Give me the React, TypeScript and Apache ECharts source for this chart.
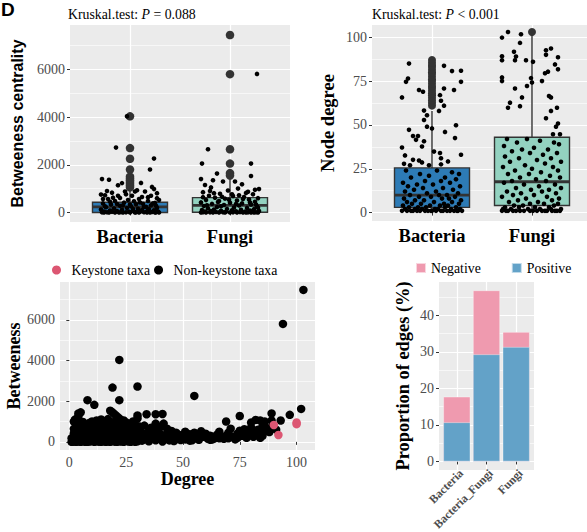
import React, { useEffect, useRef } from "react";
import * as echarts from "echarts";

const SERIF = "Liberation Serif";
const SANS = "Liberation Sans";

// ---------- Panel A / B categories ----------
const boxCategories = ["Bacteria", "Fungi"];
const boxFills = ["#2D7BB6", "#93D2C0"];

// [min, Q1, median, Q3, max]
const betweenBoxStats = [
  [0, 0, 230, 430, 1000],
  [0, 10, 295, 620, 1480],
];
const betweenOutliersBacteria = [4030, 2700, 2250, 1800, 1500, 1420, 1350, 1280, 1200, 1120, 1050];
const betweenOutliersFungi = [7440, 5800, 2650, 2050, 1650, 1550];

const betweenJitterBacteria: [number, number][] = [
  [-0.03, 4030], [-0.14, 2720], [0.24, 2260], [0.2, 1800], [-0.28, 1400], [-0.21, 1370], [-0.12, 1140], [-0.08, 1230],
  [0.11, 1240], [0.22, 1070], [0.24, 980], [-0.29, 750], [-0.25, 720], [-0.18, 830], [-0.1, 610], [0.07, 930],
  [0.27, 810], [0.15, 880], [0.02, 700], [-0.05, 880], [0.18, 640], [-0.22, 560], [0.29, 520], [0.09, 560],
  [-0.15, 480], [0.04, 470], [0.25, 400], [-0.27, 380], [-0.06, 410], [0.13, 360], [-0.19, 330], [0.21, 300],
  [-0.1, 280], [0.01, 260], [0.16, 240], [-0.24, 220], [0.27, 200], [-0.03, 190], [-0.16, 170], [0.08, 160],
  [0.19, 140], [-0.29, 120], [-0.08, 110], [0.12, 100], [0.24, 90], [-0.2, 80], [0.03, 70], [-0.13, 60],
  [0.17, 55], [0.28, 45], [-0.26, 40], [-0.01, 35], [0.1, 30], [-0.18, 25], [0.22, 20], [-0.09, 15],
  [0.06, 12], [-0.23, 10], [0.14, 8], [0.26, 6], [-0.04, 5], [-0.28, 4], [0.2, 3], [-0.15, 2],
  [0.09, 2], [-0.07, 1], [0.29, 1], [0.0, 0], [-0.21, 0], [0.17, 0], [-0.11, 0], [0.25, 0],
  [0.05, 0], [-0.26, 0], [-0.02, 520], [0.12, 650], [-0.12, 700], [0.06, 340], [-0.2, 450], [0.23, 380],
  [-0.07, 300], [0.18, 480], [-0.25, 260], [0.03, 150], [0.27, 600], [-0.17, 620], [0.1, 420], [-0.04, 760],
  [0.21, 700], [-0.27, 560], [0.14, 230], [-0.13, 350], [0.05, 880], [0.26, 280], [-0.23, 900], [0.0, 330],
];
const betweenJitterFungi: [number, number][] = [
  [0.27, 5810], [-0.22, 2650], [-0.28, 2050], [0.21, 2050], [0.21, 1530], [-0.29, 1400], [-0.13, 1630], [-0.17, 1350],
  [-0.07, 1300], [0.05, 1300], [-0.25, 1150], [0.12, 1180], [0.29, 980], [0.25, 950], [-0.19, 1050], [0.08, 1000],
  [-0.02, 920], [-0.27, 850], [0.16, 820], [-0.1, 780], [0.23, 760], [-0.21, 700], [0.03, 690], [0.14, 650],
  [-0.15, 620], [0.28, 600], [-0.05, 580], [0.19, 540], [-0.24, 520], [0.07, 500], [-0.11, 480], [0.25, 450],
  [-0.29, 420], [0.0, 410], [0.12, 380], [-0.18, 360], [0.21, 330], [-0.06, 310], [0.09, 290], [-0.26, 270],
  [0.27, 250], [-0.13, 230], [0.04, 210], [0.17, 190], [-0.22, 170], [-0.03, 150], [0.24, 140], [-0.16, 120],
  [0.11, 110], [-0.28, 100], [0.02, 90], [0.2, 80], [-0.09, 70], [0.29, 60], [-0.19, 55], [0.06, 50],
  [-0.25, 40], [0.15, 35], [-0.04, 30], [0.22, 25], [-0.14, 20], [0.1, 15], [-0.27, 12], [0.26, 10],
  [-0.07, 8], [0.03, 6], [0.18, 5], [-0.2, 4], [-0.11, 3], [0.13, 2], [0.28, 1], [-0.24, 1],
  [0.0, 0], [-0.17, 0], [0.21, 0], [0.07, 0], [-0.29, 0], [0.16, 0], [-0.05, 0], [0.24, 0],
  [-0.12, 440], [0.13, 560], [-0.23, 300], [0.02, 760], [0.18, 870], [-0.08, 660], [0.26, 330], [-0.2, 900],
  [0.09, 720], [-0.16, 810], [0.2, 420], [-0.01, 530], [0.28, 200], [-0.27, 640], [0.06, 350], [-0.09, 260],
];

// ---------- Panel B ----------
const degreeBoxStats = [
  [1, 3, 10, 25.5, 58],
  [1, 4, 17.6, 43, 101],
];
const degreeOutliersBacteria = [61, 62.5, 64, 65.5, 67, 68, 69.5, 71, 72, 73.5, 75, 76, 77.5, 79, 80, 81.5, 83, 84, 85.5, 87];
const degreeOutliersFungi = [103];

const degreeJitterBacteria: [number, number][] = [
  [-0.23, 85], [0.12, 83.7], [0.2, 80.7], [0.29, 80.9], [0.29, 74.6], [-0.24, 76.5], [-0.26, 74.6], [-0.13, 69.9],
  [-0.09, 68.9], [0.12, 70.8], [0.22, 69.9], [-0.3, 65.7], [0.08, 67], [0.09, 63.8], [0.12, 61], [-0.08, 58.2],
  [0.07, 58], [-0.05, 55.5], [-0.08, 52.8], [0.24, 49.8], [-0.05, 49], [0, 48], [-0.23, 47.2], [0.13, 46],
  [-0.19, 43.7], [-0.14, 43.7], [-0.16, 41.5], [0.23, 42.5], [-0.08, 40.7], [-0.1, 37.7], [-0.3, 37.1], [0.02, 34.8],
  [0.08, 34], [-0.27, 32.6], [0.29, 33], [-0.19, 30.1], [0.09, 31], [0.16, 29.2], [-0.28, 27.8], [-0.22, 27],
  [-0.13, 29.7], [-0.1, 28.6], [-0.03, 27], [0.09, 27.5],
  [-0.26, 24], [0.05, 24], [0.2, 23], [-0.12, 22], [0.27, 22], [-0.03, 21], [0.13, 20], [-0.21, 20],
  [0.24, 19], [-0.07, 18], [0.09, 18], [-0.29, 17], [0.18, 17], [-0.15, 16], [0.01, 16], [0.28, 15],
  [-0.24, 15], [0.11, 14], [-0.09, 14], [0.21, 13], [-0.18, 13], [0.04, 12], [-0.27, 12], [0.26, 11],
  [-0.05, 11], [0.15, 10], [-0.22, 10], [0.07, 10], [-0.13, 9], [0.23, 9], [-0.01, 9], [-0.28, 8],
  [0.17, 8], [0.1, 8], [-0.17, 7], [0.29, 7], [-0.08, 7], [0.02, 6], [-0.25, 6], [0.2, 6],
  [-0.11, 5], [0.12, 5], [0.27, 5], [-0.2, 5], [-0.02, 4], [0.16, 4], [-0.29, 4], [0.08, 4],
  [-0.14, 3], [0.24, 3], [-0.06, 3], [0.13, 3], [-0.23, 3], [0.03, 2], [0.19, 2], [-0.17, 2],
  [0.28, 2], [-0.1, 2], [0.06, 2], [-0.27, 2], [0.22, 1], [-0.04, 1], [0.11, 1], [-0.19, 1],
  [0.26, 1], [-0.12, 1], [0.0, 1], [0.15, 1], [-0.3, 1], [0.09, 1], [-0.07, 1], [0.3, 1],
  [-0.21, 1], [0.18, 1], [-0.15, 1], [0.04, 1], [-0.25, 1], [0.25, 1], [-0.01, 1],
];
const degreeJitterFungi: [number, number][] = [
  [-0.3, 99.8], [-0.24, 103], [-0.11, 101.7], [-0.12, 96.8], [-0.18, 91.7], [-0.16, 89], [-0.3, 89.2], [-0.3, 86.9],
  [-0.17, 86.9], [-0.06, 86.9], [0.01, 86], [0.14, 92.6], [0.19, 93.6], [0.14, 90], [0.26, 88.6], [0.23, 84.5],
  [0.26, 81.7], [0.16, 80.4], [0.13, 79.5], [0.1, 75], [-0.3, 77.1], [-0.3, 75], [-0.01, 76.7], [0.0, 74.2],
  [-0.05, 72.2], [-0.17, 70.8], [-0.1, 65.7], [-0.22, 62.7], [-0.24, 59.8], [-0.12, 60.7], [0.17, 66.5], [0.19, 65.7],
  [0.25, 59.8], [0.19, 58], [0.14, 53.8], [0.26, 50.8], [0.24, 49], [0.28, 44.7], [0.21, 44.7],
  [-0.25, 42], [-0.05, 42], [0.08, 41], [0.22, 40], [-0.15, 40], [0.27, 39], [-0.28, 38], [0.02, 37],
  [-0.1, 36], [0.16, 36], [-0.2, 35], [0.25, 34], [-0.02, 34], [0.11, 33], [-0.27, 32], [0.19, 31],
  [-0.13, 31], [0.05, 30], [-0.22, 29], [0.29, 29], [0.13, 28], [-0.07, 27], [-0.29, 26], [0.21, 26],
  [0.0, 25], [-0.17, 24], [0.26, 24], [0.09, 23], [-0.24, 22], [-0.03, 22], [0.18, 21], [-0.12, 20],
  [0.28, 20], [0.04, 19], [-0.2, 18], [0.14, 18], [-0.28, 17], [0.23, 16], [-0.08, 16], [0.07, 15],
  [-0.16, 14], [0.29, 14], [-0.01, 13], [0.17, 13], [-0.25, 12], [0.1, 12], [-0.11, 11], [0.24, 11],
  [0.02, 10], [-0.19, 10], [0.15, 9], [-0.3, 9], [0.27, 8], [-0.06, 8], [0.2, 7], [-0.14, 7],
  [0.06, 6], [-0.23, 6], [0.26, 5], [-0.02, 5], [0.12, 5], [-0.18, 4], [0.22, 4], [-0.09, 4],
  [0.03, 3], [-0.27, 3], [0.17, 3], [-0.13, 3], [0.29, 2], [0.08, 2], [-0.21, 2], [-0.04, 2],
  [0.19, 2], [-0.29, 2], [0.13, 1], [-0.16, 1], [0.25, 1], [0.01, 1], [-0.24, 1], [0.1, 1],
  [-0.08, 1], [0.2, 1], [-0.3, 1], [0.05, 1], [-0.12, 1], [0.28, 1], [-0.19, 1], [0.15, 1],
  [-0.02, 1], [0.23, 1], [-0.26, 1],
];

// ---------- Panel C: [degree, betweenness] ----------
const keystoneTaxa: [number, number][] = [[90, 830], [92, 340], [100, 950], [100, 870]];
const nonKeystoneTaxa: [number, number][] = [
  [103, 7470], [94, 5800], [22, 4030], [30, 2720], [19, 2670], [55, 2260], [8, 2050], [22, 2050],
  [11, 1820], [102, 1620], [97, 1330], [89, 1400], [75, 1270], [34, 1360], [38, 1360], [41, 1370],
  [5, 1450], [4, 1400], [18, 1530], [19, 1450], [20, 1350], [21, 1250], [22, 1150], [23, 1050],
  [30, 1300], [30, 1150], [93, 1050], [89, 1050], [86, 1000], [84, 1050], [80, 950], [69, 1000],
  [2.6, 1100], [12, 1050], [13.5, 1000], [38, 900], [41.5, 900], [10, 1000], [15, 950], [25, 950],
  [27, 900], [29, 850], [85, 750], [82, 1080],
  [1, 0], [2, 10], [3, 0], [4, 20], [5, 0], [6, 30], [7, 5], [8, 0], [9, 15], [10, 40], [11, 0], [12, 25],
  [13, 10], [14, 0], [15, 35], [16, 5], [17, 20], [18, 0], [19, 45], [20, 10], [21, 0], [22, 30], [23, 15],
  [24, 0], [25, 50], [26, 20], [27, 5], [28, 40], [29, 0], [30, 25], [32, 60], [35, 30], [38, 80], [41, 20],
  [44, 70], [46, 40], [49, 90],
  [1, 180], [3, 230], [5, 160], [6, 250], [8, 200], [10, 170], [11, 260], [13, 210], [15, 190], [16, 270],
  [18, 220], [20, 180], [22, 240], [24, 200], [26, 260], [27, 170], [29, 230], [31, 190], [33, 250], [36, 210],
  [39, 170], [42, 240], [45, 200], [47, 150], [50, 230],
  [2, 420], [3, 380], [5, 450], [7, 400], [9, 370], [10, 460], [12, 410], [14, 380], [15, 470], [17, 430],
  [19, 390], [21, 450], [23, 400], [25, 370], [26, 480], [28, 420], [30, 390], [32, 440], [34, 400], [37, 460],
  [40, 380], [43, 420], [48, 350],
  [2, 640], [4, 580], [6, 620], [8, 560], [9, 680], [11, 600], [13, 650], [16, 590], [18, 700], [20, 620],
  [22, 560], [24, 680], [27, 610], [29, 660], [31, 580], [35, 520], [38, 620], [45, 540],
  [3, 780], [5, 850], [7, 760], [10, 820], [12, 870], [14, 760], [17, 830], [19, 780], [21, 900], [23, 820],
  [26, 770], [28, 860], [31, 750], [36, 700],
  [2, 1000], [3, 1100], [4, 1250], [6, 980], [9, 940], [14, 1100], [16, 1000], [24, 1050], [28, 1000],
  [17, 1120], [20, 1000], [33, 800], [40, 720], [43, 650],
  [51, 120], [52, 300], [53, 60], [54, 80], [55, 450], [56, 180], [57, 350], [58, 520], [59, 250], [60, 400],
  [61, 150], [62, 300], [63, 120], [64, 180], [65, 350], [66, 500], [67, 200], [68, 150], [69, 300], [70, 450],
  [71, 650], [72, 250], [73, 120], [74, 400], [75, 550], [76, 300], [77, 620], [78, 200], [79, 450], [80, 700],
  [81, 500], [82, 350], [83, 600], [84, 200], [85, 450], [86, 750], [87, 550], [88, 650], [89, 720], [91, 600],
  [57, 100], [62, 100], [66, 180], [70, 180], [74, 200], [76, 450], [81, 250], [85, 300], [88, 480], [47, 450],
  [49, 300], [51, 500], [53, 380],
];

// ---------- Panel D ----------
const edgeCategories = ["Bacteria", "Bacteria_Fungi", "Fungi"];
const positiveEdges = [10.7, 29.3, 31.3];
const negativeEdges = [7.0, 17.5, 4.1];

const BG = "#EBEBEB";
const plainNumber = (v: number) => String(v);
const tickLabel = { fontFamily: SERIF, fontSize: 14, color: "#4D4D4D", margin: 5, formatter: plainNumber };
const tickLine = { show: true, length: 3, lineStyle: { color: "#333333", width: 1 } };

function mainAxis(gridIndex: number, min: number, max: number, ticks: number[], extra: any = {}) {
  const { axisLabel, ...rest } = extra;
  return {
    type: "value",
    gridIndex,
    min,
    max,
    axisLine: { show: false },
    axisTick: { ...tickLine, customValues: ticks },
    axisLabel: { ...tickLabel, customValues: ticks, ...(axisLabel || {}) },
    splitLine: { show: true, lineStyle: { color: "#FFFFFF", width: 1.2 } },
    ...rest,
  };
}
function minorAxis(gridIndex: number, min: number, max: number, ticks: number[]) {
  return {
    type: "value",
    gridIndex,
    min,
    max,
    axisLine: { show: false },
    axisTick: { show: false, customValues: ticks },
    axisLabel: { show: false, customValues: ticks },
    splitLine: { show: true, lineStyle: { color: "#FFFFFF", width: 0.6 } },
  };
}

function renderBox(fills: string[]) {
  return (params: any, api: any) => {
    const x = api.value(0);
    const lo = api.coord([x, api.value(1)]);
    const q1 = api.coord([x, api.value(2)]);
    const med = api.coord([x, api.value(3)]);
    const q3 = api.coord([x, api.value(4)]);
    const hi = api.coord([x, api.value(5)]);
    const halfW = api.size([0.375, 0])[0];
    const stroke = "#333333";
    return {
      type: "group",
      children: [
        { type: "line", shape: { x1: lo[0], y1: lo[1], x2: q1[0], y2: q1[1] }, style: { stroke, lineWidth: 1.4 } },
        { type: "line", shape: { x1: q3[0], y1: q3[1], x2: hi[0], y2: hi[1] }, style: { stroke, lineWidth: 1.4 } },
        {
          type: "rect",
          shape: { x: q3[0] - halfW, y: q3[1], width: 2 * halfW, height: q1[1] - q3[1] },
          style: { fill: fills[params.dataIndex], stroke, lineWidth: 1.4 },
        },
        {
          type: "line",
          shape: { x1: med[0] - halfW, y1: med[1], x2: med[0] + halfW, y2: med[1] },
          style: { stroke, lineWidth: 2.8 },
        },
      ],
    };
  };
}

function boxPanelSeries(
  xIdx: number,
  yIdx: number,
  stats: number[][],
  outliers: number[][],
  jitters: [number, number][][],
  outlierSize: number
) {
  return [
    {
      type: "custom",
      xAxisIndex: xIdx,
      yAxisIndex: yIdx,
      renderItem: renderBox(boxFills),
      encode: { x: 0, y: [1, 2, 3, 4, 5] },
      data: stats.map((s, i) => [i + 1, ...s]),
      clip: false,
      z: 2,
    },
    {
      type: "scatter",
      xAxisIndex: xIdx,
      yAxisIndex: yIdx,
      symbolSize: outlierSize,
      itemStyle: { color: "#333333", opacity: 1 },
      data: outliers.flatMap((arr, i) => arr.map((v) => [i + 1, v])),
      z: 3,
    },
    {
      type: "scatter",
      xAxisIndex: xIdx,
      yAxisIndex: yIdx,
      symbolSize: 4.6,
      itemStyle: { color: "#000000", opacity: 1 },
      data: jitters.flatMap((arr, i) => arr.map(([dx, v]) => [i + 1 + dx, v])),
      z: 4,
    },
  ];
}

const catLabel = {
  customValues: [1, 2],
  formatter: (v: number) => boxCategories[Math.round(v) - 1] || "",
  fontFamily: SERIF,
  fontWeight: "bold",
  fontSize: 18.5,
  color: "#000000",
  margin: 5,
};

const titleRich = {
  a: { fontFamily: SERIF, fontSize: 13.8, fontWeight: "normal", color: "#000000" },
  b: { fontFamily: SERIF, fontSize: 13.8, fontWeight: "normal", color: "#000000", fontStyle: "italic" },
};

const gridBase = { show: true, backgroundColor: BG, borderWidth: 0, containLabel: false, outerBoundsMode: "none" };

const option: any = {
  animation: false,
  backgroundColor: "#FFFFFF",
  title: [
    {
      text: "{a|Kruskal.test: }{b|P}{a| = 0.088}",
      left: 68,
      top: 7,
      padding: 0,
      textStyle: { fontFamily: SERIF, fontWeight: "normal", fontSize: 13.8, rich: titleRich },
    },
    {
      text: "{a|Kruskal.test: }{b|P}{a| < 0.001}",
      left: 372,
      top: 7,
      padding: 0,
      textStyle: { fontFamily: SERIF, fontWeight: "normal", fontSize: 13.8, rich: titleRich },
    },
  ],
  graphic: [
    { type: "text", left: 1, top: 0, style: { text: "D", font: `bold 19px ${SANS}`, fill: "#000000" } },
  ],
  legend: [
    {
      data: [
        { name: "Keystone taxa", icon: "circle" },
        { name: "Non-keystone taxa", icon: "circle" },
      ],
      left: 52,
      top: 263,
      padding: 0,
      itemWidth: 20,
      itemHeight: 9,
      itemGap: 4,
      selectedMode: false,
      textStyle: { fontFamily: SERIF, fontSize: 13.8, color: "#000000" },
    },
    {
      data: ["Negative", "Positive"],
      left: 415,
      top: 261,
      padding: 0,
      icon: "rect",
      itemWidth: 10,
      itemHeight: 10,
      itemGap: 30,
      selectedMode: false,
      textStyle: { fontFamily: SERIF, fontSize: 13.8, color: "#000000" },
    },
  ],
  grid: [
    { ...gridBase, left: 70, top: 25, width: 220, height: 197 },
    { ...gridBase, left: 372, top: 25, width: 220, height: 196 },
    { ...gridBase, left: 60, top: 282, width: 255, height: 168 },
    { ...gridBase, left: 439, top: 282, width: 95, height: 188 },
  ],
  xAxis: [
    mainAxis(0, 0.4, 2.6, [1, 2], { axisLabel: catLabel }),
    mainAxis(1, 0.4, 2.6, [1, 2], { axisLabel: catLabel }),
    mainAxis(2, -4.1, 108.1, [0, 25, 50, 75, 100], {
      name: "Degree",
      nameLocation: "middle",
      nameGap: 13,
      nameTextStyle: { fontFamily: SERIF, fontWeight: "bold", fontSize: 18, color: "#000000", verticalAlign: "top" },
    }),
    minorAxis(2, -4.1, 108.1, [12.5, 37.5, 62.5, 87.5]),
    mainAxis(3, 0.4, 3.6, [1, 2, 3], {
      axisLabel: {
        customValues: [1, 2, 3],
        formatter: (v: number) => edgeCategories[Math.round(v) - 1] || "",
        rotate: 45,
        align: "right",
        verticalAlign: "top",
        fontFamily: SERIF,
        fontWeight: "bold",
        fontSize: 11.8,
        color: "#4D4D4D",
        margin: -3,
      },
    }),
  ],
  yAxis: [
    mainAxis(0, -400, 7860, [0, 2000, 4000, 6000], {
      name: "Betweeness centrality",
      nameLocation: "middle",
      nameGap: 45,
      nameTextStyle: { fontFamily: SANS, fontWeight: "bold", fontSize: 16, color: "#000000" },
    }),
    minorAxis(0, -400, 7860, [1000, 3000, 5000, 7000]),
    mainAxis(1, -4.8, 107, [0, 25, 50, 75, 100], {
      name: "Node degree",
      nameLocation: "middle",
      nameGap: 35,
      nameTextStyle: { fontFamily: SERIF, fontWeight: "bold", fontSize: 18.5, color: "#000000" },
    }),
    minorAxis(1, -4.8, 107, [12.5, 37.5, 62.5, 87.5]),
    mainAxis(2, -400, 7860, [0, 2000, 4000, 6000], {
      name: "Betweeness",
      nameLocation: "middle",
      nameGap: 28,
      nameTextStyle: { fontFamily: SERIF, fontWeight: "bold", fontSize: 18, color: "#000000" },
    }),
    minorAxis(2, -400, 7860, [1000, 3000, 5000, 7000]),
    mainAxis(3, -2.34, 49.1, [0, 10, 20, 30, 40], {
      name: "Proportion of edges (%)",
      nameLocation: "middle",
      nameGap: 27,
      nameTextStyle: { fontFamily: SERIF, fontWeight: "bold", fontSize: 18.4, color: "#000000" },
    }),
    minorAxis(3, -2.34, 49.1, [5, 15, 25, 35, 45]),
  ],
  series: [
    ...boxPanelSeries(0, 0, betweenBoxStats, [betweenOutliersBacteria, betweenOutliersFungi], [betweenJitterBacteria, betweenJitterFungi], 8.5),
    ...boxPanelSeries(1, 2, degreeBoxStats, [degreeOutliersBacteria, degreeOutliersFungi], [degreeJitterBacteria, degreeJitterFungi], 8),
    {
      name: "Non-keystone taxa",
      type: "scatter",
      xAxisIndex: 2,
      yAxisIndex: 4,
      symbolSize: 8.5,
      itemStyle: { color: "#000000", opacity: 1 },
      data: nonKeystoneTaxa,
      z: 3,
    },
    {
      name: "Keystone taxa",
      type: "scatter",
      xAxisIndex: 2,
      yAxisIndex: 4,
      symbolSize: 8.5,
      itemStyle: { color: "#DC5672", opacity: 1 },
      data: keystoneTaxa,
      z: 4,
    },
    {
      name: "Negative",
      type: "bar",
      xAxisIndex: 4,
      yAxisIndex: 6,
      barWidth: 27,
      barGap: "-100%",
      itemStyle: { color: "#EF9AAF", borderColor: "rgba(255,255,255,0.6)", borderWidth: 0.6 },
      data: negativeEdges.map((v, i) => [i + 1, positiveEdges[i] + v]),
      z: 2,
    },
    {
      name: "Positive",
      type: "bar",
      xAxisIndex: 4,
      yAxisIndex: 6,
      barWidth: 27,
      barGap: "-100%",
      itemStyle: { color: "#63A2C8", borderColor: "rgba(255,255,255,0.6)", borderWidth: 0.6 },
      data: positiveEdges.map((v, i) => [i + 1, v]),
      z: 3,
    },
  ],
};

export default function App() {
  const ref = useRef<HTMLDivElement>(null);
  useEffect(() => {
    if (!ref.current) return;
    const chart = echarts.init(ref.current, null, { renderer: "svg" });
    chart.setOption(option);
    return () => chart.dispose();
  }, []);
  return (
    <div
      ref={ref}
      style={{ position: "fixed", left: 0, top: 0, width: 587, height: 532, background: "#FFFFFF" }}
    />
  );
}
